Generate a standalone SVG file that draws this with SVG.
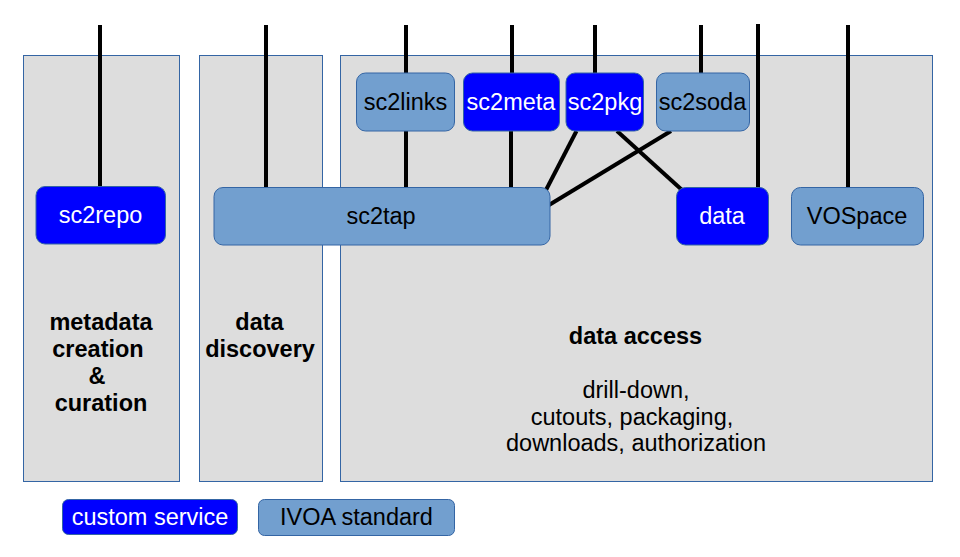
<svg xmlns="http://www.w3.org/2000/svg" width="960" height="557" viewBox="0 0 960 557">
<style>
.panel{fill:#dddddd;stroke:#3465a4;stroke-width:1}
.cust{fill:#0000ff;stroke:#3465a4;stroke-width:1}
.ivoa{fill:#729fcf;stroke:#3465a4;stroke-width:1}
.conn line{stroke:#000;stroke-width:4;stroke-linecap:butt}
text{font-family:"Liberation Sans",Arial,sans-serif;font-size:23.5px;text-anchor:middle}
.w{fill:#fff}
.k{fill:#000}
.b{font-weight:bold}
</style>
<rect width="960" height="557" fill="#fff"/>
<g id="panels">
<rect class="panel" x="23.5" y="55.5" width="156" height="426"/>
<rect class="panel" x="199.5" y="55.5" width="123" height="426"/>
<rect class="panel" x="340.5" y="55.5" width="592" height="426"/>
</g>
<g id="panel-labels">
<text class="k b" x="101" y="330">metadata</text>
<text class="k b" x="98" y="357">creation</text>
<text class="k b" x="97" y="384">&amp;</text>
<text class="k b" x="101" y="411">curation</text>
<text class="k b" x="259.5" y="330">data</text>
<text class="k b" x="260" y="357">discovery</text>
<text class="k b" x="635.5" y="343.5">data access</text>
<text class="k" x="636" y="397.5">drill-down,</text>
<text class="k" x="632" y="424.5">cutouts, packaging,</text>
<text class="k" x="636" y="451">downloads, authorization</text>
</g>
<g id="connectors" class="conn">
<line x1="100" y1="25" x2="100" y2="187"/>
<line x1="266" y1="25" x2="266" y2="188"/>
<line x1="406" y1="25" x2="406" y2="73"/>
<line x1="406" y1="131" x2="406" y2="188"/>
<line x1="512" y1="25" x2="512" y2="73"/>
<line x1="511" y1="131" x2="511" y2="188"/>
<line x1="595" y1="25" x2="595" y2="73"/>
<line x1="701" y1="25" x2="701" y2="73"/>
<line x1="758" y1="24" x2="758" y2="188"/>
<line x1="848" y1="25" x2="848" y2="188"/>
<line x1="576.5" y1="131" x2="546" y2="190"/>
<line x1="671" y1="131" x2="549" y2="205"/>
<line x1="617" y1="131" x2="682" y2="190"/>
</g>
<g id="sc2repo"><rect class="cust" x="36" y="186.5" width="129.5" height="57.5" rx="9"/><text class="w" x="100.5" y="223">sc2repo</text></g>
<g id="sc2tap"><rect class="ivoa" x="214" y="187.5" width="336" height="57.5" rx="9"/><text class="k" x="381" y="224">sc2tap</text></g>
<g id="sc2links"><rect class="ivoa" x="356.5" y="73" width="98" height="58" rx="9"/><text class="k" x="405.5" y="110">sc2links</text></g>
<g id="sc2meta"><rect class="cust" x="463.5" y="73" width="96" height="58" rx="9"/><text class="w" x="511" y="110">sc2meta</text></g>
<g id="sc2pkg"><rect class="cust" x="566" y="73" width="77.5" height="58" rx="9"/><text class="w" x="605" y="110">sc2pkg</text></g>
<g id="sc2soda"><rect class="ivoa" x="656.5" y="73" width="93" height="58" rx="9"/><text class="k" x="702.5" y="110">sc2soda</text></g>
<g id="data"><rect class="cust" x="676.5" y="187.5" width="92" height="57.5" rx="9"/><text class="w" x="722" y="224">data</text></g>
<g id="VOSpace"><rect class="ivoa" x="791.5" y="187.5" width="132" height="57.5" rx="9"/><text class="k" x="857" y="224">VOSpace</text></g>
<g id="legend-custom"><rect class="cust" x="62.5" y="499.5" width="175" height="35" rx="6"/><text class="w" x="150" y="525">custom service</text></g>
<g id="legend-ivoa"><rect class="ivoa" x="258.5" y="499.5" width="196" height="36" rx="6"/><text class="k" x="356.5" y="525">IVOA standard</text></g>
</svg>
